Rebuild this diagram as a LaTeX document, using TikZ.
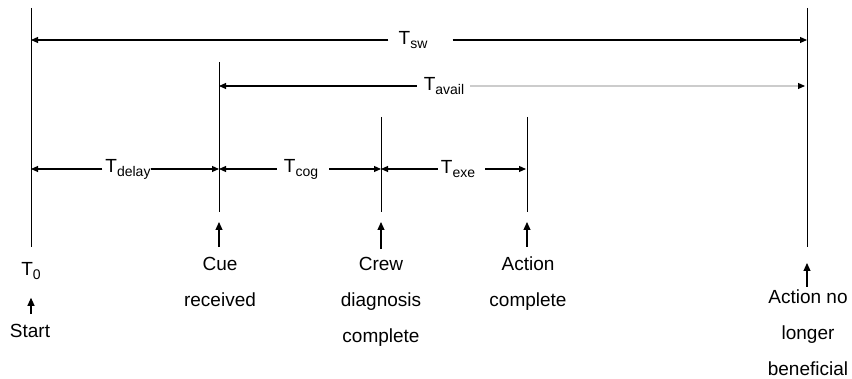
\documentclass[tikz,border=0pt]{standalone}
\usepackage{fontspec}
\setmainfont{Liberation Sans}
\usetikzlibrary{arrows.meta}
\newcommand{\lowsub}[1]{\raisebox{-4pt}{\fontsize{14}{14}\selectfont #1}}

\begin{document}
\begin{tikzpicture}[x=1pt,y=-1pt,
  every node/.style={font=\fontsize{19}{36}\selectfont,inner sep=0pt},
  timeline/.style={line width=1pt},
  span/.style={line width=1.1pt,-{Triangle[length=7pt,width=6pt]}},
  faint/.style={draw=black!20,-{Triangle[length=7pt,width=6pt,color=black]}},
  event/.style={align=center},
  uparr/.style={line width=1.1pt,-{Triangle[length=8pt,width=7pt]}}]
  \useasboundingbox (0,0) rectangle (852,379);
  \coordinate (top0) at (31,8);   \coordinate (bot0) at (31,247);
  \coordinate (top1) at (219,62); \coordinate (bot1) at (219,212);
  \coordinate (top2) at (381,117); \coordinate (bot2) at (381,212);
  \coordinate (top3) at (527,117); \coordinate (bot3) at (527,212);
  \coordinate (top4) at (807,8);  \coordinate (bot4) at (807,247);
  \foreach \i in {0,...,4}
    \draw[timeline] (top\i) -- (bot\i);

  \node (tsw) at (413,40) {T\lowsub{sw}};
  \node (tavail) at (444,86) {T\lowsub{avail}};
  \node (tdelay) at (128,169) {T\lowsub{delay}};
  \node (tcog) at (301,169) {T\lowsub{cog}};
  \node (texe) at (458,169) {T\lowsub{exe}};

  \draw[span,shorten <=10pt] (tsw) -- (tsw -| top0);
  \draw[span,shorten <=25pt] (tsw) -- (tsw -| top4);
  \draw[span,shorten <=7pt] (tavail) -- (tavail -| top1);
  \draw[span,faint,shorten <=6pt,shorten >=2pt] (tavail) -- (tavail -| top4);
  \draw[span,shorten <=3pt] (tdelay) -- (tdelay -| top0);
  \draw[span] (tdelay) -- (tdelay -| top1);
  \draw[span,shorten <=7pt] (tcog) -- (tcog -| top1);
  \draw[span,shorten <=11pt] (tcog) -- (tcog -| top2);
  \draw[span,shorten <=3pt] (texe) -- (texe -| top2);
  \draw[span,shorten <=10pt,shorten >=1pt] (texe) -- (texe -| top3);

  \node[event] (t0) at (31,271) {T\lowsub{0}};
  \node[event] (start) at (30,331) {Start};
  \node[event] (cue) at (220,282) {Cue\\received};
  \node[event] (crew) at (381,302) {Crew\\diagnosis\\complete};
  \node[event] (done) at (528,284) {Action\\complete};
  \node[event] (nobenefit) at (808,333) {Action no\\longer\\beneficial};

  \draw[uparr,shorten <=10pt,shorten >=18pt] (start.north -| t0) -- (t0);
  \draw[uparr,shorten <=10pt,shorten >=10pt] (cue.north -| bot1) -- (bot1);
  \draw[uparr,shorten <=8pt,shorten >=10pt] (crew.north -| bot2) -- (bot2);
  \draw[uparr,shorten <=10pt,shorten >=10pt] (done.north -| bot3) -- (bot3);
  \draw[uparr,shorten <=3pt,shorten >=16pt] (nobenefit.north -| bot4) -- (bot4);
\end{tikzpicture}
\end{document}
